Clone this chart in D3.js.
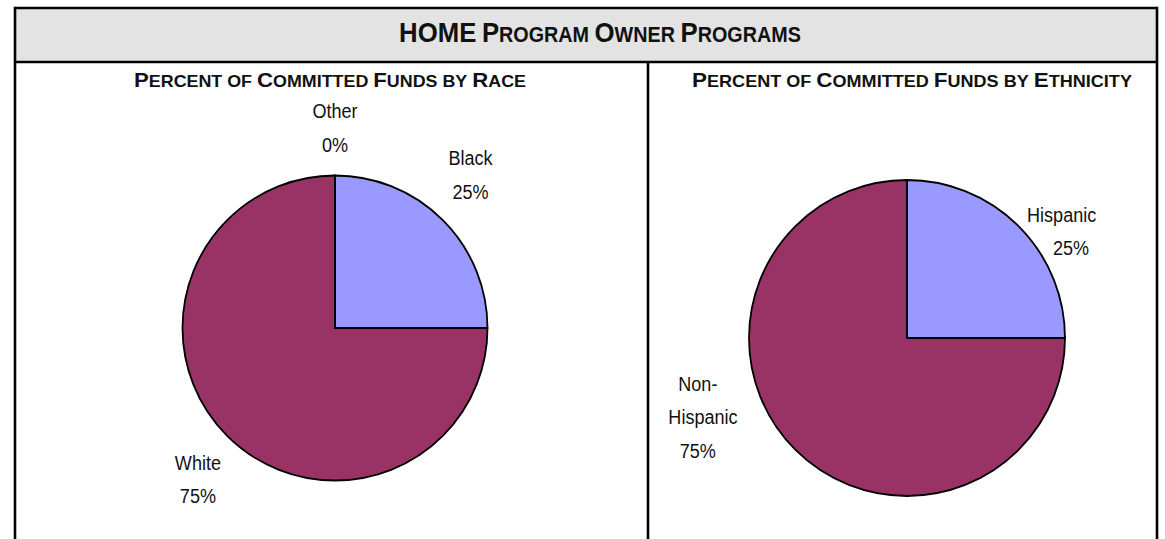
<!DOCTYPE html>
<html>
<head>
<meta charset="utf-8">
<script src="https://cdn.jsdelivr.net/npm/d3@7"></script>
<style>
  html, body { margin: 0; padding: 0; background: #fff; }
  svg { display: block; }
  text { font-family: "Liberation Sans Narrow", "Arial Narrow", "Liberation Sans", sans-serif; fill: #111; }
</style>
</head>
<body>
<svg id="chart" width="1165" height="539"></svg>
<script>
// Chart text
const mainTitle = "HOME Program Owner Programs";
const panelTitles = ["Percent of Committed Funds by Race", "Percent of Committed Funds by Ethnicity"];

// Race panel
const raceCategories = ["Black", "White", "Other"];
const raceValues = [25, 75, 0];

// Ethnicity panel
const ethnicityCategories = ["Hispanic", "Non-Hispanic"];
const ethnicityValues = [25, 75];

// Slice colours
const sliceColors = ["#9999FF", "#993366", "#FFFFCC"];

const W = 1165, H = 539;
const svg = d3.select("#chart");

const frame = { left: 15, right: 1157, top: 8, headerBottom: 62, mid: 648 };

// Header band
svg.append("rect")
  .attr("x", frame.left).attr("y", frame.top)
  .attr("width", frame.right - frame.left).attr("height", frame.headerBottom - frame.top)
  .attr("fill", "#e3e3e3");

// Table rules
const rule = (x1, y1, x2, y2) => svg.append("line")
  .attr("x1", x1).attr("y1", y1).attr("x2", x2).attr("y2", y2)
  .attr("stroke", "#000").attr("stroke-width", 2.6);
rule(frame.left, frame.top, frame.right, frame.top);
rule(frame.left, frame.headerBottom, frame.right, frame.headerBottom);
rule(frame.left, frame.top - 1.3, frame.left, H);
rule(frame.right, frame.top - 1.3, frame.right, H);
rule(frame.mid, frame.headerBottom, frame.mid, H);

// Small-caps text: leading capitals at full size, other letters as smaller capitals
function smallCaps(sel, str, big, small) {
  str.split(/(\s+)/).forEach(tok => {
    if (!tok) return;
    if (/^\s+$/.test(tok)) { sel.append("tspan").attr("font-size", small).text(" "); return; }
    if (tok === tok.toUpperCase()) { sel.append("tspan").attr("font-size", big).text(tok); return; }
    const first = tok[0], rest = tok.slice(1);
    if (first === first.toUpperCase()) {
      sel.append("tspan").attr("font-size", big).text(first);
      sel.append("tspan").attr("font-size", small).text(rest.toUpperCase());
    } else {
      sel.append("tspan").attr("font-size", small).text(tok.toUpperCase());
    }
  });
}

// Condensed heading: laid out at origin, then scaled horizontally to the given width
function heading(cx, y, str, big, small, width) {
  const g = svg.append("g");
  const tx = g.append("text").attr("x", 0).attr("y", 0)
    .attr("text-anchor", "middle").attr("font-weight", "bold");
  smallCaps(tx, str, big, small);
  const sx = width / tx.node().getComputedTextLength();
  g.attr("transform", `translate(${cx},${y}) scale(${sx},1)`);
}

heading(600, 42, mainTitle, 28, 21.5, 402);

const panelCenters = [330, 912];
const panelTitleWidths = [392, 440];
panelTitles.forEach((s, i) => heading(panelCenters[i], 87, s, 20.5, 16.5, panelTitleWidths[i]));

// Pie layout
const pie = d3.pie().sort(null).value(d => d.value);

function drawPie(cx, cy, r, cats, vals, labelOpts) {
  const data = cats.map((c, i) => ({ name: c, value: vals[i], color: sliceColors[i] }));
  const arcs = pie(data);
  const arc = d3.arc().innerRadius(0).outerRadius(r);
  const g = svg.append("g").attr("transform", `translate(${cx},${cy})`);
  g.selectAll("path").data(arcs).join("path")
    .attr("d", arc)
    .attr("fill", d => d.data.color)
    .attr("stroke", "#000").attr("stroke-width", 1.8).attr("stroke-linejoin", "round");

  const lineH = 33.5;
  arcs.forEach((a, i) => {
    const opt = labelOpts[i];
    const ang = (a.startAngle + a.endAngle) / 2 + (opt.turn || 0);
    const lr = r * opt.k;
    const x = Math.sin(ang) * lr;
    const y = -Math.cos(ang) * lr;
    const lines = (opt.lines || [a.data.name]).concat([d3.format(".0%")(a.data.value / 100)]);
    const y0 = -(lines.length - 1) * lineH / 2 + 7;
    const tx = g.append("text").attr("text-anchor", "middle").attr("font-size", 21)
      .attr("transform", `translate(${x},${y}) scale(0.86,1)`);
    lines.forEach((ln, j) => {
      tx.append("tspan").attr("x", (opt.shift && opt.shift[j]) || 0).attr("y", y0 + j * lineH).text(ln);
    });
  });
}

drawPie(335, 328, 152.5, raceCategories, raceValues, [
  { k: 1.34, turn: -0.06 },
  { k: 1.34, turn: -0.05 },
  { k: 1.31, turn: 0 }
]);

drawPie(907, 338, 158, ethnicityCategories, ethnicityValues, [
  { k: 1.22, turn: 0.2, shift: [-7, 4] },
  { k: 1.40, turn: 0.42, shift: [-3, 3, -3] , lines: ["Non-", "Hispanic"] }
]);
</script>
</body>
</html>
